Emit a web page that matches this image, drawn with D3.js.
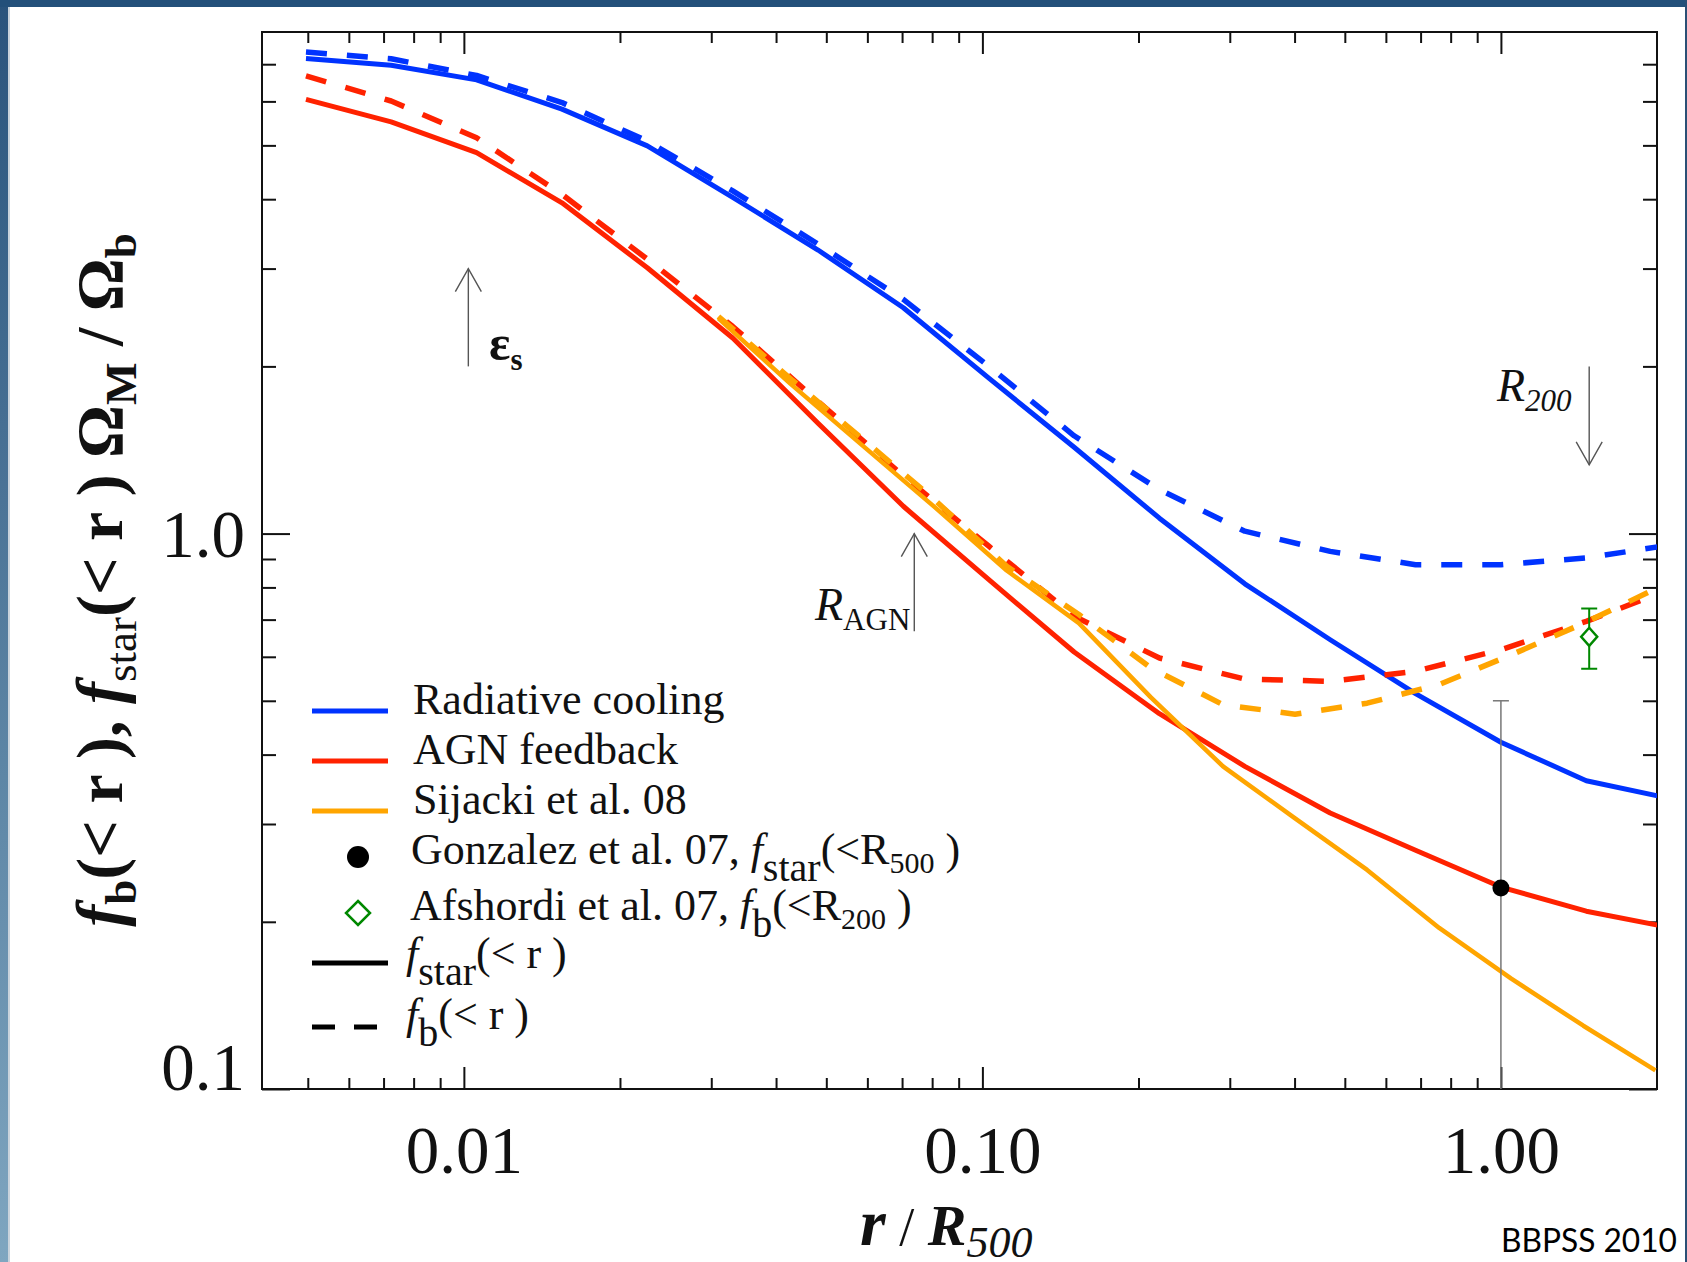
<!DOCTYPE html>
<html><head><meta charset="utf-8">
<script src="https://cdn.jsdelivr.net/npm/d3@7"></script>
<style>
html,body{margin:0;padding:0;background:#fff;}
svg{display:block;}
</style></head><body>
<svg id="chart" width="1687" height="1262"></svg>
<script>
// ---------------- data ----------------
// simulation radial grid (r / R500)
const rGrid = [0.00496, 0.00724, 0.01058, 0.01546, 0.02258, 0.0330, 0.0482, 0.0704, 0.1029, 0.1503, 0.2195, 0.3207, 0.4686, 0.6845, 1.0, 1.461, 2.134];
const radCoolStar = [7.17, 6.97, 6.56, 5.81, 4.99, 4.03, 3.24, 2.55, 1.905, 1.43, 1.066, 0.812, 0.644, 0.515, 0.421, 0.359, 0.333];
const radCoolBar  = [7.36, 7.16, 6.68, 5.97, 5.09, 4.14, 3.32, 2.64, 2.00, 1.50, 1.20, 1.01, 0.929, 0.879, 0.879, 0.904, 0.955];
const agnStar     = [6.05, 5.51, 4.85, 3.94, 3.01, 2.25, 1.58, 1.12, 0.826, 0.612, 0.474, 0.381, 0.314, 0.269, 0.231, 0.209, 0.195];
const agnBar      = [6.67, 6.01, 5.16, 4.08, 3.12, 2.36, 1.73, 1.27, 0.949, 0.71, 0.597, 0.547, 0.542, 0.565, 0.618, 0.695, 0.796];
// Sijacki et al. 08 grid
const rSij    = [0.03097, 0.04266, 0.05875, 0.08091, 0.1114, 0.1535, 0.2113, 0.2911, 0.4009, 0.5521, 0.7603, 1.047, 1.442, 1.986];
const sijStar = [2.44, 1.86, 1.44, 1.116, 0.858, 0.690, 0.507, 0.381, 0.307, 0.248, 0.195, 0.158, 0.130, 0.108];
const sijBar  = [2.46, 1.90, 1.48, 1.15, 0.873, 0.715, 0.573, 0.492, 0.473, 0.495, 0.535, 0.605, 0.689, 0.795];
// observational points: [x, y, yLow, yHigh]
const gonzalez = [1.0, 0.230, 0.09, 0.50];
const afshordi = [1.48, 0.652, 0.571, 0.733];
// annotation arrows: [x, yFrom, yTo]
const arrowEps  = [0.0102, 2.0, 3.0];
const arrowRagn = [0.0739, 0.667, 1.0];
const arrowR200 = [1.48, 2.0, 1.33];
// axis ticks
const xMajorTicks = [0.01, 0.1, 1];
const xMinorTicks = [0.005,0.006,0.007,0.008,0.009,0.02,0.03,0.04,0.05,0.06,0.07,0.08,0.09,0.2,0.3,0.4,0.5,0.6,0.7,0.8,0.9];
const yMajorTicks = [0.1, 1];
const yMinorTicks = [0.2,0.3,0.4,0.5,0.6,0.7,0.8,0.9,2,3,4,5,6,7];
// legend labels
const legendNames = ["Radiative cooling", "AGN feedback", "Sijacki et al. 08"];

// ---------------- drawing ----------------
const W = 1687, H = 1262;
const serif = "'Liberation Serif','Times New Roman',Times,serif";
const BLUE = "#0033ff", RED = "#ff2200", ORANGE = "#ffa500", GREEN = "#008800", INK = "#111";
const svg = d3.select('#chart');
const defs = svg.append('defs');
const grad = defs.append('linearGradient').attr('id','leftBand').attr('x1',0).attr('y1',0).attr('x2',0).attr('y2',1);
grad.append('stop').attr('offset','0%').attr('stop-color','#29537c');
grad.append('stop').attr('offset','100%').attr('stop-color','#7fa6c0');

svg.append('rect').attr('width',W).attr('height',H).attr('fill','#fff');
svg.append('rect').attr('x',0).attr('y',0).attr('width',8).attr('height',H).attr('fill','url(#leftBand)');
svg.append('rect').attr('x',8).attr('y',7).attr('width',2).attr('height',H).attr('fill','#c9d3dc');
svg.append('rect').attr('x',0).attr('y',0).attr('width',W).attr('height',7).attr('fill','#23507a');
svg.append('rect').attr('x',W-2).attr('y',0).attr('width',2).attr('height',H).attr('fill','#2a4f75');

const L = 262, R = 1657, T = 32, B = 1089;
const x = d3.scaleLog().domain([0.00408, 2.0]).range([L, R]);
const y = d3.scaleLog().domain([0.1, 8]).range([B, T]);

defs.append('clipPath').attr('id','plotClip')
  .append('rect').attr('x',L).attr('y',T).attr('width',R-L).attr('height',B-T);

function styleAxis(g){
  g.select('.domain').remove();
  g.selectAll('line').attr('stroke',INK).attr('stroke-width',2);
  g.attr('font-family',null).attr('font-size',null);
}
// bottom
svg.append('g').attr('transform',`translate(0,${B})`)
  .call(d3.axisBottom(x).tickValues(xMinorTicks).tickSize(-11).tickSizeOuter(0).tickFormat('')).call(styleAxis);
const bx = svg.append('g').attr('transform',`translate(0,${B})`)
  .call(d3.axisBottom(x).tickValues(xMajorTicks).tickSize(-22).tickSizeOuter(0).tickFormat(d3.format('.2f'))).call(styleAxis);
bx.selectAll('text').attr('y',84).attr('dy',0).attr('font-family',serif).attr('font-size',67).attr('fill',INK);
// top
svg.append('g').attr('transform',`translate(0,${T})`)
  .call(d3.axisTop(x).tickValues(xMinorTicks).tickSize(-11).tickSizeOuter(0).tickFormat('')).call(styleAxis);
svg.append('g').attr('transform',`translate(0,${T})`)
  .call(d3.axisTop(x).tickValues(xMajorTicks).tickSize(-22).tickSizeOuter(0).tickFormat('')).call(styleAxis);
// left
svg.append('g').attr('transform',`translate(${L},0)`)
  .call(d3.axisLeft(y).tickValues(yMinorTicks).tickSize(-14).tickSizeOuter(0).tickFormat('')).call(styleAxis);
const ly = svg.append('g').attr('transform',`translate(${L},0)`)
  .call(d3.axisLeft(y).tickValues(yMajorTicks).tickSize(-28).tickPadding(17).tickSizeOuter(0).tickFormat(d3.format('.1f'))).call(styleAxis);
ly.selectAll('text').attr('font-family',serif).attr('font-size',67).attr('fill',INK)
  .attr('dy', d => d === 0.1 ? '0em' : '0.34em');
// right
svg.append('g').attr('transform',`translate(${R},0)`)
  .call(d3.axisRight(y).tickValues(yMinorTicks).tickSize(-14).tickSizeOuter(0).tickFormat('')).call(styleAxis);
svg.append('g').attr('transform',`translate(${R},0)`)
  .call(d3.axisRight(y).tickValues(yMajorTicks).tickSize(-28).tickSizeOuter(0).tickFormat('')).call(styleAxis);

// frame
svg.append('rect').attr('x',L).attr('y',T).attr('width',R-L).attr('height',B-T)
  .attr('fill','none').attr('stroke',INK).attr('stroke-width',2);

// curves
const line = d3.line().x(d => x(d[0])).y(d => y(d[1]));
const plot = svg.append('g').attr('clip-path','url(#plotClip)');
const zip = (xs, ys) => xs.map((v,i) => [v, ys[i]]);
const series = [
  {xs: rGrid, ys: radCoolStar, c: BLUE,   dash: null,    w: 5},
  {xs: rGrid, ys: radCoolBar,  c: BLUE,   dash: '21,20', w: 5.5},
  {xs: rGrid, ys: agnStar,     c: RED,    dash: null,    w: 5},
  {xs: rGrid, ys: agnBar,      c: RED,    dash: '21,20', w: 5.5},
  {xs: rSij,  ys: sijStar,     c: ORANGE, dash: null,    w: 4.5},
  {xs: rSij,  ys: sijBar,      c: ORANGE, dash: '21,20', w: 5.5}
];
series.forEach(s => {
  plot.append('path').datum(zip(s.xs, s.ys)).attr('d', line)
    .attr('fill','none').attr('stroke', s.c).attr('stroke-width', s.w)
    .attr('stroke-dasharray', s.dash).attr('stroke-linejoin','round');
});

// arrows
function arrow(a){
  const ax = x(a[0]), y0 = y(a[1]), y1 = y(a[2]);
  const dir = y1 < y0 ? 1 : -1;
  const g = svg.append('g').attr('stroke','#555').attr('stroke-width',1.4).attr('fill','none');
  g.append('line').attr('x1',ax).attr('x2',ax).attr('y1',y0).attr('y2',y1);
  g.append('path').attr('d',`M${ax-13},${y1+dir*23} L${ax},${y1} L${ax+13},${y1+dir*23}`);
}
[arrowEps, arrowRagn, arrowR200].forEach(arrow);

// error bars and points
const eb = svg.append('g').attr('clip-path','url(#plotClip)');
eb.append('line').attr('x1',x(gonzalez[0])).attr('x2',x(gonzalez[0]))
  .attr('y1',y(gonzalez[2])).attr('y2',y(gonzalez[3])).attr('stroke','#777').attr('stroke-width',1.5);
eb.append('line').attr('x1',x(gonzalez[0])-8).attr('x2',x(gonzalez[0])+8)
  .attr('y1',y(gonzalez[3])).attr('y2',y(gonzalez[3])).attr('stroke','#777').attr('stroke-width',1.5);
svg.append('circle').attr('cx',x(gonzalez[0])).attr('cy',y(gonzalez[1])).attr('r',8.5).attr('fill','#000');

const ag = svg.append('g').attr('stroke',GREEN).attr('stroke-width',2);
ag.append('line').attr('x1',x(afshordi[0])).attr('x2',x(afshordi[0])).attr('y1',y(afshordi[2])).attr('y2',y(afshordi[3]));
[afshordi[2], afshordi[3]].forEach(v => ag.append('line')
  .attr('x1',x(afshordi[0])-8).attr('x2',x(afshordi[0])+8).attr('y1',y(v)).attr('y2',y(v)));
{
  const cx = x(afshordi[0]), cy = y(afshordi[1]);
  svg.append('path').attr('d',`M${cx},${cy-9} L${cx+8},${cy} L${cx},${cy+9} L${cx-8},${cy} Z`)
    .attr('fill','#fff').attr('stroke',GREEN).attr('stroke-width',2.5);
}

// annotation labels
function txt(xp, yp, size, opts={}){
  const t = svg.append('text').attr('x',xp).attr('y',yp).attr('font-family',serif)
    .attr('font-size',size).attr('fill',INK);
  if (opts.anchor) t.attr('text-anchor',opts.anchor);
  if (opts.weight) t.attr('font-weight',opts.weight);
  if (opts.style) t.attr('font-style',opts.style);
  return t;
}
{
  const t = txt(489, 360, 50, {weight:'bold'});
  t.append('tspan').text('ε');
  t.append('tspan').attr('font-size',31).attr('dy',10).text('s');
}
{
  const t = txt(815, 620, 46);
  t.append('tspan').attr('font-style','italic').text('R');
  t.append('tspan').attr('font-size',31).attr('dy',10).text('AGN');
}
{
  const t = txt(1497, 401, 46, {style:'italic'});
  t.append('tspan').text('R');
  t.append('tspan').attr('font-size',31).attr('dy',10).text('200');
}

// axis titles
{
  const t = txt(860, 1245, 54);
  t.append('tspan').attr('font-style','italic').attr('font-weight','bold').attr('font-size',66).text('r');
  t.append('tspan').text(' / ');
  t.append('tspan').attr('font-style','italic').attr('font-weight','bold').attr('font-size',58).text('R');
  t.append('tspan').attr('font-style','italic').attr('font-size',44).attr('dy',12).text('500');
}
{
  const t = svg.append('text').attr('transform','translate(122,580) rotate(-90)')
    .attr('text-anchor','middle').attr('font-family',serif).attr('font-size',66)
    .attr('font-weight','bold').attr('fill',INK);
  t.append('tspan').attr('font-style','italic').text('f');
  t.append('tspan').attr('font-size',45).attr('dy',14).text('b');
  t.append('tspan').attr('dy',-14).text('(< r ), ');
  t.append('tspan').attr('font-style','italic').text('f');
  t.append('tspan').attr('font-size',45).attr('font-weight','normal').attr('dy',14).text('star');
  t.append('tspan').attr('dy',-14).text('(< r ) Ω');
  t.append('tspan').attr('font-size',45).attr('dy',14).text('M');
  t.append('tspan').attr('dy',-14).text(' / Ω');
  t.append('tspan').attr('font-size',45).attr('dy',14).text('b');
}

// legend
const lgColors = [BLUE, RED, ORANGE];
const lgY = [711, 761, 811];
legendNames.forEach((name, i) => {
  svg.append('line').attr('x1',312).attr('x2',388).attr('y1',lgY[i]).attr('y2',lgY[i])
    .attr('stroke',lgColors[i]).attr('stroke-width',5);
  txt(413, lgY[i]+3, 44).text(name);
});
svg.append('circle').attr('cx',358).attr('cy',857).attr('r',11).attr('fill','#000');
{
  const t = txt(411, 864, 44);
  t.append('tspan').text('Gonzalez et al. 07, ');
  t.append('tspan').attr('font-style','italic').text('f');
  t.append('tspan').attr('font-size',40).attr('dy',17).text('star');
  t.append('tspan').attr('dy',-17).text('(<R');
  t.append('tspan').attr('font-size',30).attr('dy',9).text('500');
  t.append('tspan').attr('dy',-9).text(' )');
}
svg.append('path').attr('d','M358,901 L370,913 L358,925 L346,913 Z')
  .attr('fill','#fff').attr('stroke',GREEN).attr('stroke-width',2.5);
{
  const t = txt(410, 920, 44);
  t.append('tspan').text('Afshordi et al. 07, ');
  t.append('tspan').attr('font-style','italic').text('f');
  t.append('tspan').attr('font-size',40).attr('dy',17).text('b');
  t.append('tspan').attr('dy',-17).text('(<R');
  t.append('tspan').attr('font-size',30).attr('dy',9).text('200');
  t.append('tspan').attr('dy',-9).text(' )');
}
svg.append('line').attr('x1',312).attr('x2',388).attr('y1',963).attr('y2',963)
  .attr('stroke','#000').attr('stroke-width',5);
{
  const t = txt(406, 968, 44);
  t.append('tspan').attr('font-style','italic').text('f');
  t.append('tspan').attr('font-size',40).attr('dy',17).text('star');
  t.append('tspan').attr('dy',-17).text('(< r )');
}
svg.append('line').attr('x1',312).attr('x2',388).attr('y1',1027).attr('y2',1027)
  .attr('stroke','#000').attr('stroke-width',5).attr('stroke-dasharray','23,19');
{
  const t = txt(406, 1029, 44);
  t.append('tspan').attr('font-style','italic').text('f');
  t.append('tspan').attr('font-size',40).attr('dy',17).text('b');
  t.append('tspan').attr('dy',-17).text('(< r )');
}

// credit
svg.append('text').attr('x',1677).attr('y',1252).attr('text-anchor','end')
  .attr('font-family',"Lato,'Open Sans',sans-serif").attr('font-size',33).attr('fill','#000')
  .attr('textLength',176).attr('lengthAdjust','spacingAndGlyphs').text('BBPSS 2010');
</script>
</body></html>
